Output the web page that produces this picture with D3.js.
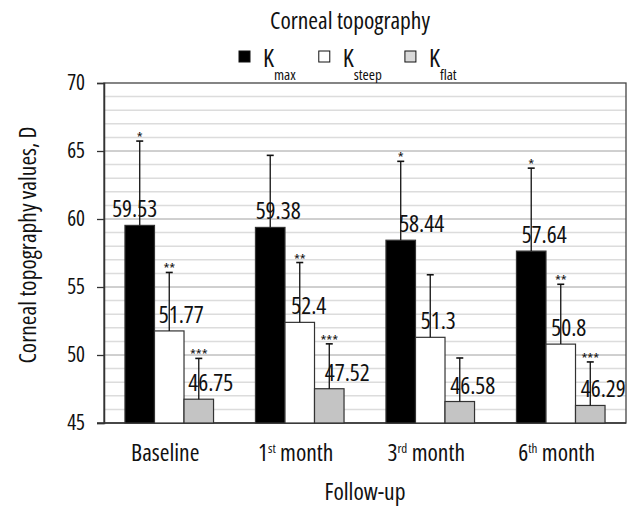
<!DOCTYPE html>
<html>
<head>
<meta charset="utf-8">
<script src="https://cdn.jsdelivr.net/npm/d3@7"></script>
<style>
  html, body { margin: 0; padding: 0; background: #fff; }
  svg { display: block; }
  text { font-family: "Open Sans", "Roboto Condensed", sans-serif; font-stretch: condensed; fill: #111; }
</style>
</head>
<body>
<svg id="chart" width="630" height="509"></svg>
<script>
// ---- data ----
const categories = ["Baseline", "1st month", "3rd month", "6th month"];
const seriesNames = ["max", "steep", "flat"];
const kmax   = [59.53, 59.38, 58.44, 57.64];
const ksteep = [51.77, 52.4, 51.3, 50.8];
const kflat  = [46.75, 47.52, 46.58, 46.29];
const kmaxSD   = [6.2, 5.3, 5.8, 6.1];
const ksteepSD = [4.3, 4.4, 4.6, 4.4];
const kflatSD  = [3.0, 3.3, 3.2, 3.2];
const kmaxSig   = ["*", "", "*", "*"];
const ksteepSig = ["**", "**", "", "**"];
const kflatSig  = ["***", "***", "", "***"];
const yTicks = [45, 50, 55, 60, 65, 70];

// label nudges (layout only, px relative to bar centre)
const kmaxLabelShift   = [-5, 8, 21, 13];
const ksteepLabelShift = [12, 9, 8, 8];
const kflatLabelShift  = [12, 18, 13, 13];

const seriesValues = [kmax, ksteep, kflat];
const seriesSD = [kmaxSD, ksteepSD, kflatSD];
const seriesSig = [kmaxSig, ksteepSig, kflatSig];
const seriesShift = [kmaxLabelShift, ksteepLabelShift, kflatLabelShift];
const seriesFill = ["#000000", "#ffffff", "#c4c4c4"];
const legendFill = ["#000000", "#ffffff", "#d9d9d9"];

// ---- layout ----
const svg = d3.select("#chart");
const pLeft = 104, pRight = 626, pTop = 83, pBottom = 423;

const y = d3.scaleLinear().domain([45, 70]).range([pBottom, pTop]);
const x0 = d3.scaleBand().domain(categories).range([pLeft, pRight]).padding(0);
const x1 = d3.scaleBand().domain(seriesNames).range([0, x0.bandwidth()])
  .paddingInner(0).paddingOuter(0.71);

// minor grid
svg.append("g").selectAll("line")
  .data(d3.range(46, 70).filter(v => v % 5 !== 0))
  .join("line")
  .attr("x1", pLeft).attr("x2", pRight)
  .attr("y1", d => y(d)).attr("y2", d => y(d))
  .attr("stroke", "#dcdcdc").attr("stroke-width", 1.5);

// major grid
svg.append("g").selectAll("line")
  .data(yTicks.filter(v => v > 45 && v < 70))
  .join("line")
  .attr("x1", pLeft).attr("x2", pRight)
  .attr("y1", d => y(d)).attr("y2", d => y(d))
  .attr("stroke", "#a0a0a0").attr("stroke-width", 1);

// frame
svg.append("rect")
  .attr("x", pLeft).attr("y", pTop)
  .attr("width", pRight - pLeft).attr("height", pBottom - pTop)
  .attr("fill", "none").attr("stroke", "#444").attr("stroke-width", 1.3);

// y axis
const yAxis = svg.append("g")
  .attr("transform", `translate(${pLeft},0)`)
  .call(d3.axisLeft(y).tickValues(yTicks).tickSize(7).tickPadding(12).tickFormat(d3.format("d")));
yAxis.select(".domain").attr("stroke", "#333").attr("stroke-width", 1.5);
yAxis.selectAll(".tick line").attr("stroke", "#333").attr("stroke-width", 1.3);
yAxis.selectAll(".tick text").style("font-size", "21px")
  .style("font-family", '"Open Sans", sans-serif').style("font-stretch", "condensed").attr("fill", "#111");

// bottom axis line
svg.append("line")
  .attr("x1", pLeft - 7).attr("x2", pRight)
  .attr("y1", pBottom).attr("y2", pBottom)
  .attr("stroke", "#333").attr("stroke-width", 1.5);

// groups
const groups = svg.append("g").selectAll("g")
  .data(categories)
  .join("g")
  .attr("transform", d => `translate(${x0(d)},0)`);

const barData = (c, ci) => seriesNames.map((s, si) => ({
  s, si, v: seriesValues[si][ci], sd: seriesSD[si][ci], sig: seriesSig[si][ci], shift: seriesShift[si][ci]
}));

groups.each(function(c, ci) {
  const g = d3.select(this);
  const data = barData(c, ci);
  const cx = d => x1(d.s) + x1.bandwidth() / 2;
  g.selectAll("rect.bar").data(data).join("rect")
    .attr("class", "bar")
    .attr("x", d => x1(d.s)).attr("width", x1.bandwidth())
    .attr("y", d => y(d.v)).attr("height", d => y(45) - y(d.v))
    .attr("fill", d => seriesFill[d.si])
    .attr("stroke", "#333").attr("stroke-width", 1.2);
  g.selectAll("line.err").data(data).join("line")
    .attr("class", "err")
    .attr("x1", cx).attr("x2", cx)
    .attr("y1", d => y(d.v)).attr("y2", d => y(d.v + d.sd))
    .attr("stroke", "#111").attr("stroke-width", 1.3);
  g.selectAll("line.cap").data(data).join("line")
    .attr("class", "cap")
    .attr("x1", d => cx(d) - 3.5).attr("x2", d => cx(d) + 3.5)
    .attr("y1", d => y(d.v + d.sd)).attr("y2", d => y(d.v + d.sd))
    .attr("stroke", "#111").attr("stroke-width", 1.6);
  g.selectAll("text.sig").data(data.filter(d => d.sig)).join("text")
    .attr("class", "sig")
    .attr("x", cx)
    .attr("y", d => y(d.v + d.sd) + 2)
    .attr("text-anchor", "middle")
    .style("font-size", "15px")
    .text(d => d.sig);
  g.selectAll("text.val").data(data).join("text")
    .attr("class", "val")
    .attr("x", d => cx(d) + d.shift)
    .attr("y", d => y(d.v) - 8)
    .attr("text-anchor", "middle")
    .style("font-size", "23.5px")
    .text(d => d.v);
});

// category labels with superscripts
categories.forEach(c => {
  const m = c.match(/^(\d)(st|nd|rd|th)(.*)$/);
  const t = svg.append("text")
    .attr("x", x0(c) + x0.bandwidth() / 2 - 4)
    .attr("y", 461)
    .attr("text-anchor", "middle")
    .style("font-size", "23.5px");
  if (m) {
    t.append("tspan").text(m[1]);
    t.append("tspan").attr("dy", -8).style("font-size", "13px").text(m[2]);
    t.append("tspan").attr("dy", 8).text(m[3]);
  } else {
    t.text(c);
  }
});

// axis titles
svg.append("text")
  .attr("x", (pLeft + pRight) / 2).attr("y", 500)
  .attr("text-anchor", "middle").style("font-size", "23.5px")
  .text("Follow-up");

svg.append("text")
  .attr("transform", `translate(36,${(pTop + pBottom) / 2 - 8}) rotate(-90)`)
  .attr("text-anchor", "middle").style("font-size", "23.5px")
  .text("Corneal topography values, D");

// title
svg.append("text")
  .attr("x", 350).attr("y", 29)
  .attr("text-anchor", "middle").style("font-size", "23.5px")
  .text("Corneal topography");

// legend (laid out sequentially by measured text widths)
const legend = svg.append("g");
let lx = 239;
seriesNames.forEach((s, i) => {
  legend.append("rect")
    .attr("x", lx).attr("y", 51)
    .attr("width", 11).attr("height", 11)
    .attr("fill", legendFill[i])
    .attr("stroke", "#111").attr("stroke-width", 1);
  const t = legend.append("text")
    .attr("x", lx + 24).attr("y", 67)
    .style("font-size", "25px");
  t.append("tspan").text("K");
  t.append("tspan").attr("dy", 13).style("font-size", "15px").text(s);
  lx = lx + 24 + t.node().getComputedTextLength() + 23;
});
</script>
</body>
</html>
